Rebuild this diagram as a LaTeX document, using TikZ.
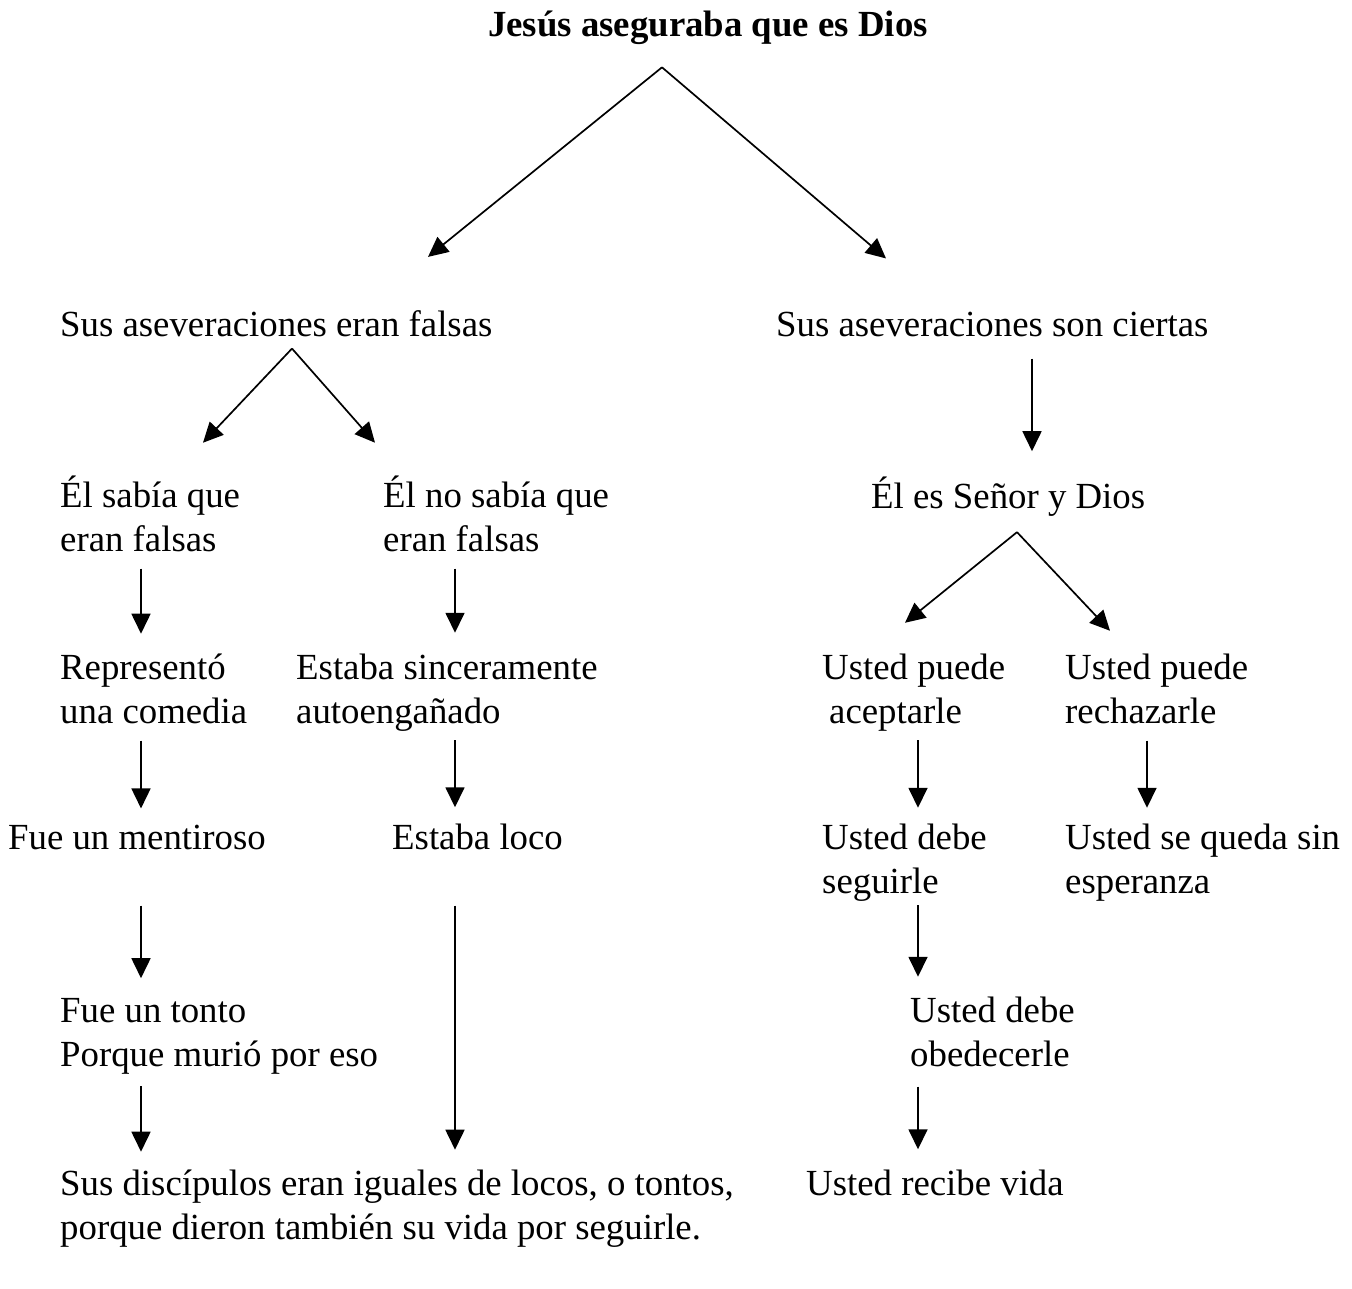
\documentclass[tikz,border=0pt]{standalone}
\usepackage{fontspec}
\setmainfont{Liberation Serif}
\usetikzlibrary{arrows.meta, calc}

\begin{document}
\begin{tikzpicture}[
      x=1pt, y=-1pt,
      txt/.style={anchor=base west, align=left, inner sep=0pt, font=\fontsize{36.8}{43.5}\selectfont},
      ar/.style={-{Triangle[length=20pt, width=19pt]}, line width=1.7pt}
    ]
    \useasboundingbox (0,0) rectangle (1352,1288);
    % top (multi-line nodes sit on the baseline of their last line)
    \node[txt, anchor=base, font=\fontsize{36.8}{43.5}\selectfont\bfseries] (title) at (708,36) {Jesús aseguraba que es Dios};
    \node[txt] (falsas) at (60,336) {Sus aseveraciones eran falsas};
    \node[txt] (ciertas) at (776,336) {Sus aseveraciones son ciertas};
    % left branch
    \node[txt] (sabia) at (60,551) {Él sabía que\\eran falsas};
    \node[txt] (nosabia) at (383,551) {Él no sabía que\\eran falsas};
    \node[txt] (comedia) at (60,723) {Representó\\una comedia};
    \node[txt] (sincero) at (296,723) {Estaba sinceramente\\autoengañado};
    \node[txt] (mentiroso) at (8,849) {Fue un mentiroso};
    \node[txt] (loco) at (392,849) {Estaba loco};
    \node[txt] (tonto) at (60,1066) {Fue un tonto\\Porque murió por eso};
    \node[txt] (discipulos) at (60,1239) {Sus discípulos eran iguales de locos, o tontos,\\porque dieron también su vida por seguirle.};
    % right branch
    \node[txt] (senor) at (871,508) {Él es Señor y Dios};
    \node[txt] (acepta) at (822,723) {Usted puede\\\hspace*{7pt}aceptarle};
    \node[txt] (rechaza) at (1065,723) {Usted puede\\rechazarle};
    \node[txt] (seguir) at (822,893) {Usted debe\\seguirle};
    \node[txt] (sinesp) at (1065,893) {Usted se queda sin\\esperanza};
    \node[txt] (obedece) at (910,1066) {Usted debe\\obedecerle};
    \node[txt] (vida) at (806,1195) {Usted recibe vida};

    \draw[ar] ($(title.south -| 662,0)+(0,23)$) -- ($(falsas.north -| 428,0)-(0,53)$);
    \draw[ar] ($(title.south -| 662,0)+(0,23)$) -- ($(ciertas.north -| 886,0)-(0,53)$);
    \draw[ar] ($(falsas.south -| 292,0)+(0,12)$) -- ($(sabia.north -| 203,0)-(0,33)$);
    \draw[ar] ($(falsas.south -| 292,0)+(0,12)$) -- ($(nosabia.north -| 375,0)-(0,33)$);
    \draw[ar] ($(ciertas.south -| 1032,0)+(0,22)$) -- ($(senor.north -| 1032,0)-(0,25)$);
    \draw[ar] ($(senor.south -| 1017,0)+(0,16)$) -- ($(acepta.north -| 905,0)-(0,31)$);
    \draw[ar] ($(senor.south -| 1017,0)+(0,16)$) -- ($(rechaza.north -| 1110,0)-(0,23)$);
    \draw[ar] ($(sabia.south -| 141,0)+(0,17)$) -- ($(comedia.north -| 141,0)-(0,20)$);
    \draw[ar] ($(nosabia.south -| 455,0)+(0,17)$) -- ($(sincero.north -| 455,0)-(0,21)$);
    \draw[ar] ($(comedia.south -| 141,0)+(0,17)$) -- ($(mentiroso.north -| 141,0)-(0,16)$);
    \draw[ar] ($(sincero.south -| 455,0)+(0,9)$) -- ($(loco.north -| 455,0)-(0,16)$);
    \draw[ar] ($(acepta.south -| 918,0)+(0,9)$) -- ($(seguir.north -| 918,0)-(0,16)$);
    \draw[ar] ($(rechaza.south -| 1147,0)+(0,17)$) -- ($(sinesp.north -| 1147,0)-(0,16)$);
    \draw[ar] ($(mentiroso.south -| 141,0)+(0,56)$) -- ($(tonto.north -| 141,0)-(0,20)$);
    \draw[ar] ($(loco.south -| 455,0)+(0,56)$) -- ($(discipulos.north -| 455,0)-(0,20)$);
    \draw[ar] ($(seguir.south -| 918,0)+(0,4)$) -- ($(obedece.north -| 918,0)-(0,20)$);
    \draw[ar] ($(tonto.south -| 141,0)+(0,12)$) -- ($(discipulos.north -| 141,0)-(0,18)$);
    \draw[ar] ($(obedece.south -| 918,0)+(0,20)$) -- ($(vida.north -| 918,0)-(0,20)$);
  \end{tikzpicture}
\end{document}
